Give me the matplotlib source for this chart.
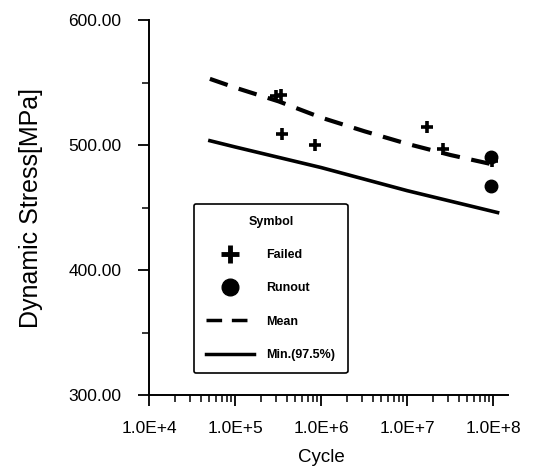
import math
import matplotlib
matplotlib.use("Agg")
import matplotlib.pyplot as plt
from matplotlib.lines import Line2D
from matplotlib.ticker import LogLocator, FixedLocator, FuncFormatter

plt.rcParams['font.family'] = ['Liberation Sans', 'DejaVu Sans']

# S-N curves (cycles, MPa)
mean_cycles = [5.1e4, 1e5, 3.2e5, 1e6, 3.2e6, 1e7, 3.2e7, 1.15e8]
mean_stress = [553, 546, 535, 522, 511, 501, 492, 483.5]
min_cycles = [5.1e4, 1e5, 1e6, 1e7, 1.12e8]
min_stress = [503.5, 498.5, 482, 463.5, 446]

# test results
failed_cycles = [3.0e5, 3.4e5, 3.5e5, 8.5e5, 1.7e7, 2.6e7, 9.6e7]
failed_stress = [539, 540, 509, 500, 514.5, 496.5, 487]
runout_cycles = [9.4e7, 9.4e7]
runout_stress = [490.5, 467.5]

fig = plt.figure(figsize=(5.43, 4.68), dpi=100)
ax = fig.add_axes([0.2744, 0.1560, 0.6611, 0.8010])

ax.plot(mean_cycles, mean_stress, color="black", lw=3, dashes=(4.5, 2.8))
ax.plot(min_cycles, min_stress, color="black", lw=2.6)
ax.plot(failed_cycles, failed_stress, ls="none", marker="+", ms=9,
        mew=2.6, color="black")
ax.plot(runout_cycles, runout_stress, ls="none", marker="o", ms=9,
        color="black")

ax.set_xscale("log")
ax.set_xlim(1e4, 1.48e8)
ax.set_ylim(300, 600)

ax.xaxis.set_major_locator(FixedLocator([1e4, 1e5, 1e6, 1e7, 1e8]))
ax.xaxis.set_minor_locator(LogLocator(base=10, subs=range(2, 10)))
ax.xaxis.set_major_formatter(FuncFormatter(
    lambda v, p: "1.0E+{}".format(int(round(math.log10(v))))))
ax.yaxis.set_major_locator(FixedLocator([300, 400, 500, 600]))
ax.yaxis.set_minor_locator(FixedLocator([350, 450, 550]))
ax.yaxis.set_major_formatter(FuncFormatter(lambda v, p: "{:.2f}".format(v)))

for s in ["top", "right"]:
    ax.spines[s].set_visible(False)
for s in ["left", "bottom"]:
    ax.spines[s].set_linewidth(1.4)

ax.tick_params(which="major", length=8, width=1.3, labelsize=12.5)
ax.tick_params(which="minor", length=5, width=1.1)
ax.tick_params(axis="y", which="major", pad=12)
ax.tick_params(axis="x", which="major", pad=11)

ax.set_xlabel("Cycle", fontsize=13.5)
ax.xaxis.set_label_coords(0.48, -0.145)
ax.set_ylabel("Dynamic Stress[MPa]", fontsize=18, labelpad=18)

handles = [
    Line2D([], [], ls="none", marker="+", ms=13, mew=3.5, color="black"),
    Line2D([], [], ls="none", marker="o", ms=12, color="black"),
    Line2D([], [], color="black", lw=2.5, dashes=(4.5, 2.8)),
    Line2D([], [], color="black", lw=2.5),
]
labels = ["Failed", "Runout", "Mean", "Min.(97.5%)"]
leg = ax.legend(handles, labels, title="Symbol", loc="upper left",
                bbox_to_anchor=(0.125, 0.51), frameon=True, fancybox=True,
                edgecolor="black", framealpha=1, fontsize=9,
                title_fontsize=9, handlelength=3.8, handletextpad=1.0,
                labelspacing=1.7, borderpad=1.0, borderaxespad=0)
leg.get_frame().set_linewidth(1.2)
leg.get_title().set_fontweight("bold")
for t in leg.get_texts():
    t.set_fontweight("bold")
leg._legend_box.sep = 15

fig.savefig("out.png", dpi=100)
